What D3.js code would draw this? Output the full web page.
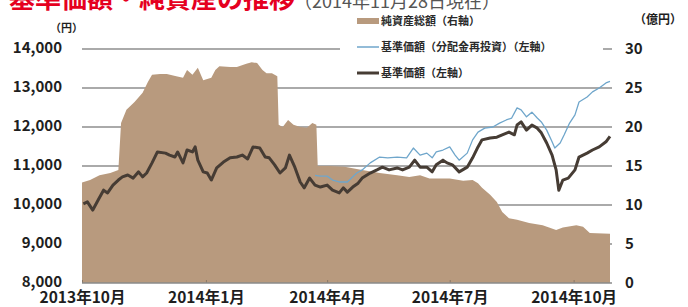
<!DOCTYPE html>
<html>
<head>
<meta charset="utf-8">
<script src="https://cdn.jsdelivr.net/npm/d3@7"></script>
<style>
    body { margin: 0; background: #fff; }
    svg text { font-family: "Noto Sans CJK JP", "Noto Sans", sans-serif; font-weight: bold; }
</style>
</head>
<body>
<div id="chart"></div>
<script>
"use strict"

// 純資産総額 (億円, right axis)
let navDates = ["2013-10-01","2013-10-07","2013-10-14","2013-10-22","2013-10-28","2013-10-30","2013-11-03","2013-11-09",
    "2013-11-15","2013-11-19","2013-11-22","2013-11-28","2013-12-03","2013-12-10","2013-12-15","2013-12-18","2013-12-22",
    "2013-12-26","2013-12-30","2014-01-05","2014-01-08","2014-01-11","2014-01-19","2014-01-24","2014-01-31","2014-02-04",
    "2014-02-08","2014-02-12","2014-02-15","2014-02-19","2014-02-23","2014-02-24","2014-02-27","2014-03-03","2014-03-07",
    "2014-03-12","2014-03-17","2014-03-21","2014-03-24","2014-03-25","2014-04-03","2014-04-14","2014-04-27","2014-05-10",
    "2014-05-23","2014-06-01","2014-06-09","2014-06-16","2014-07-01","2014-07-11","2014-07-18","2014-07-22","2014-07-25",
    "2014-07-31","2014-08-05","2014-08-09","2014-08-14","2014-08-20","2014-08-29","2014-09-08","2014-09-18","2014-09-23",
    "2014-10-03","2014-10-08","2014-10-13","2014-10-28"];
let navValues = [12.9,13.2,13.8,14.1,14.5,20.5,22.2,23.2,
    24.4,25.8,26.7,26.8,26.8,26.5,26.3,27.3,26.7,
    27.6,26.0,26.3,27.3,27.8,27.7,27.7,28.1,28.3,
    28.2,27.3,26.9,26.9,26.5,20.3,20.0,20.9,20.3,
    20.0,19.9,20.5,20.3,15.0,15.0,14.9,14.5,14.1,
    13.8,13.6,13.8,13.4,13.4,13.1,13.2,12.8,12.2,
    11.3,10.4,9.1,8.3,8.1,7.7,7.4,6.8,7.1,
    7.4,7.2,6.4,6.3];

// 基準価額 (円, left axis)
let priceDates = ["2013-10-02","2013-10-05","2013-10-09","2013-10-13","2013-10-17","2013-10-20","2013-10-24","2013-10-28",
    "2013-10-31","2013-11-04","2013-11-08","2013-11-12","2013-11-15","2013-11-18","2013-11-22","2013-11-26","2013-12-02",
    "2013-12-05","2013-12-09","2013-12-11","2013-12-15","2013-12-18","2013-12-22","2013-12-24","2013-12-26","2013-12-30",
    "2014-01-02","2014-01-05","2014-01-09","2014-01-14","2014-01-19","2014-01-24","2014-01-28","2014-02-01","2014-02-05",
    "2014-02-10","2014-02-14","2014-02-17","2014-02-21","2014-02-25","2014-03-01","2014-03-04","2014-03-08","2014-03-12",
    "2014-03-15","2014-03-19","2014-03-23","2014-03-27","2014-04-01","2014-04-05","2014-04-10","2014-04-13","2014-04-16",
    "2014-04-20","2014-04-24","2014-04-27","2014-05-03","2014-05-08","2014-05-12","2014-05-17","2014-05-23","2014-05-27",
    "2014-06-01","2014-06-05","2014-06-09","2014-06-14","2014-06-18","2014-06-21","2014-06-26","2014-06-29","2014-07-03",
    "2014-07-08","2014-07-14","2014-07-18","2014-07-22","2014-07-25","2014-07-31","2014-08-05","2014-08-09","2014-08-14",
    "2014-08-18","2014-08-20","2014-08-23","2014-08-27","2014-08-31","2014-09-04","2014-09-07","2014-09-11","2014-09-15",
    "2014-09-18","2014-09-20","2014-09-23","2014-09-27","2014-10-02","2014-10-05","2014-10-11","2014-10-15","2014-10-20",
    "2014-10-25","2014-10-28"];
let priceValues = [10030,10080,9870,10130,10380,10310,10510,10640,
    10720,10770,10690,10850,10720,10820,11080,11360,11330,
    11280,11230,11360,11080,11410,11360,11490,11150,10850,
    10820,10640,10950,11100,11210,11230,11280,11180,11490,
    11460,11230,11210,11030,10820,10950,11280,10970,10590,
    10440,10690,10510,10460,10510,10380,10310,10440,10330,
    10460,10560,10690,10820,10900,10970,10900,10950,10900,
    10970,11150,10970,10970,10850,11030,11150,11080,11030,
    10850,10970,11210,11490,11670,11720,11740,11800,11870,
    11800,12050,12130,11920,12050,11970,11850,11590,11280,
    10900,10380,10640,10690,10900,11230,11330,11410,11490,
    11620,11760];

// 基準価額（分配金再投資） (円, left axis)
let reinvDates = ["2014-03-23","2014-03-27","2014-04-01","2014-04-05","2014-04-10","2014-04-16","2014-04-23","2014-04-27",
    "2014-05-03","2014-05-10","2014-05-16","2014-05-23","2014-05-30","2014-06-04","2014-06-09","2014-06-14","2014-06-18",
    "2014-06-21","2014-06-26","2014-07-01","2014-07-05","2014-07-08","2014-07-14","2014-07-18","2014-07-22","2014-07-27",
    "2014-08-02","2014-08-07","2014-08-12","2014-08-16","2014-08-20","2014-08-23","2014-08-27","2014-08-31","2014-09-04",
    "2014-09-07","2014-09-11","2014-09-15","2014-09-17","2014-09-21","2014-09-24","2014-09-28","2014-10-02","2014-10-05",
    "2014-10-11","2014-10-15","2014-10-20","2014-10-25","2014-10-28"];
let reinvValues = [10760,10740,10740,10640,10590,10590,10820,10900,
    11080,11230,11210,11230,11210,11460,11280,11330,11210,
    11360,11410,11490,11280,11150,11330,11670,11870,11970,
    12000,12100,12180,12230,12490,12440,12260,12380,12230,
    12130,11920,11620,11460,11590,11800,12100,12310,12640,
    12770,12900,13000,13130,13170];

let leftTicks = [8000, 9000, 10000, 11000, 12000, 13000, 14000];
let rightTicks = [0, 5, 10, 15, 20, 25, 30];
let monthTicks = ["2013-10-01", "2014-01-01", "2014-04-01", "2014-07-01", "2014-10-01"];
let monthLabels = ["2013年10月", "2014年1月", "2014年4月", "2014年7月", "2014年10月"];
let legendLabels = ["純資産総額（右軸）", "基準価額（分配金再投資）（左軸）", "基準価額（左軸）"];

let colors = {
    area: "#b89a7e",
    price: "#463c34",
    reinv: "#6fa6cb",
    grid: "#8e8e8e",
    text: "#1e1e1e"
};

let parseDate = d3.timeParse("%Y-%m-%d");

let svg = d3.select("#chart").append("svg")
    .attr("width", 688)
    .attr("height", 307);

let x = d3.scaleTime()
    .domain([parseDate("2013-10-01"), parseDate("2014-10-28")])
    .range([82, 610]);
let yLeft = d3.scaleLinear().domain([8000, 14000]).range([283, 49]);
let yRight = d3.scaleLinear().domain([0, 30]).range([283, 49]);

let navData = navDates.map((d, i) => ({ date: parseDate(d), v: navValues[i] }));
let priceData = priceDates.map((d, i) => ({ date: parseDate(d), v: priceValues[i] }));
let reinvData = reinvDates.map((d, i) => ({ date: parseDate(d), v: reinvValues[i] }));

/* gridlines behind everything */
svg.append("g").selectAll("line")
    .data(leftTicks.slice(1))
    .enter().append("line")
    .attr("x1", 82)
    .attr("x2", 612)
    .attr("y1", d => yLeft(d))
    .attr("y2", d => yLeft(d))
    .style("stroke", colors.grid)
    .style("stroke-width", 1.4);

/* net assets area */
let area = d3.area()
    .x(d => x(d.date))
    .y0(yRight(0))
    .y1(d => yRight(d.v));

svg.append("path")
    .datum(navData)
    .attr("d", area)
    .style("fill", colors.area);

/* bottom axis */
let xAxis = d3.axisBottom(x)
    .tickValues(monthTicks.map(parseDate))
    .tickSize(-3)
    .tickFormat((d, i) => monthLabels[i]);

let xAxisG = svg.append("g")
    .attr("transform", "translate(0,283)")
    .call(xAxis);
xAxisG.select(".domain").remove();
xAxisG.selectAll(".tick line").style("stroke", "#8a7866");
xAxisG.selectAll(".tick text")
    .attr("y", 19.5)
    .attr("dy", 0)
    .style("font-size", "15.5px")
    .style("fill", colors.text);
svg.append("line")
    .attr("x1", 82).attr("x2", 612)
    .attr("y1", 283).attr("y2", 283)
    .style("stroke", "#8a8a8a")
    .style("stroke-width", 1.4);

/* lines */
let line = yScale => d3.line()
    .x(d => x(d.date))
    .y(d => yScale(d.v));

svg.append("path")
    .datum(reinvData)
    .attr("d", line(yLeft))
    .style("fill", "none")
    .style("stroke", colors.reinv)
    .style("stroke-width", 1.3)
    .style("stroke-linejoin", "round");

svg.append("path")
    .datum(priceData)
    .attr("d", line(yLeft))
    .style("fill", "none")
    .style("stroke", colors.price)
    .style("stroke-width", 3)
    .style("stroke-linejoin", "round");

/* left axis labels */
svg.append("g").selectAll("text")
    .data(leftTicks)
    .enter().append("text")
    .attr("x", 62)
    .attr("y", d => yLeft(d) + 4)
    .attr("text-anchor", "end")
    .style("font-size", "15px")
    .style("fill", colors.text)
    .text(d => d3.format(",")(d));

/* right axis labels */
svg.append("g").selectAll("text")
    .data(rightTicks)
    .enter().append("text")
    .attr("x", 625)
    .attr("y", d => yRight(d) + 5)
    .style("font-size", "15px")
    .style("fill", colors.text)
    .text(d => d);

svg.append("text")
    .attr("x", 50).attr("y", 32)
    .style("font-size", "11px")
    .style("fill", colors.text)
    .text("（円）");

svg.append("text")
    .attr("x", 634).attr("y", 24)
    .style("font-size", "12px")
    .style("fill", colors.text)
    .text("（億円）");

/* legend box */
let legend = svg.append("g");
legend.append("rect")
    .attr("x", 340).attr("y", 12)
    .attr("width", 263).attr("height", 68)
    .style("fill", "#fff");

let legendY = [21, 47, 73];
legendLabels.forEach((label, i) => {
    if (i === 0) {
        legend.append("rect")
            .attr("x", 357).attr("y", legendY[i] - 3)
            .attr("width", 22).attr("height", 6)
            .style("fill", colors.area);
    } else {
        legend.append("line")
            .attr("x1", 357).attr("x2", 379)
            .attr("y1", legendY[i]).attr("y2", legendY[i])
            .style("stroke", i === 1 ? colors.reinv : colors.price)
            .style("stroke-width", i === 1 ? 1.5 : 3);
    }
    legend.append("text")
        .attr("x", 381)
        .attr("y", legendY[i] + 4)
        .style("font-size", "11px")
        .style("fill", "#2a2a2a")
        .text(label);
});

/* title, cut off at the top in the source */
svg.append("text")
    .attr("x", 9).attr("y", 8)
    .style("font-size", "26px")
    .style("fill", "#e5001f")
    .text("基準価額・純資産の推移");
svg.append("text")
    .attr("x", 294).attr("y", 8)
    .style("font-size", "18px")
    .style("font-weight", "normal")
    .style("fill", "#555")
    .text("（2014年11月28日現在）");
</script>
</body>
</html>
